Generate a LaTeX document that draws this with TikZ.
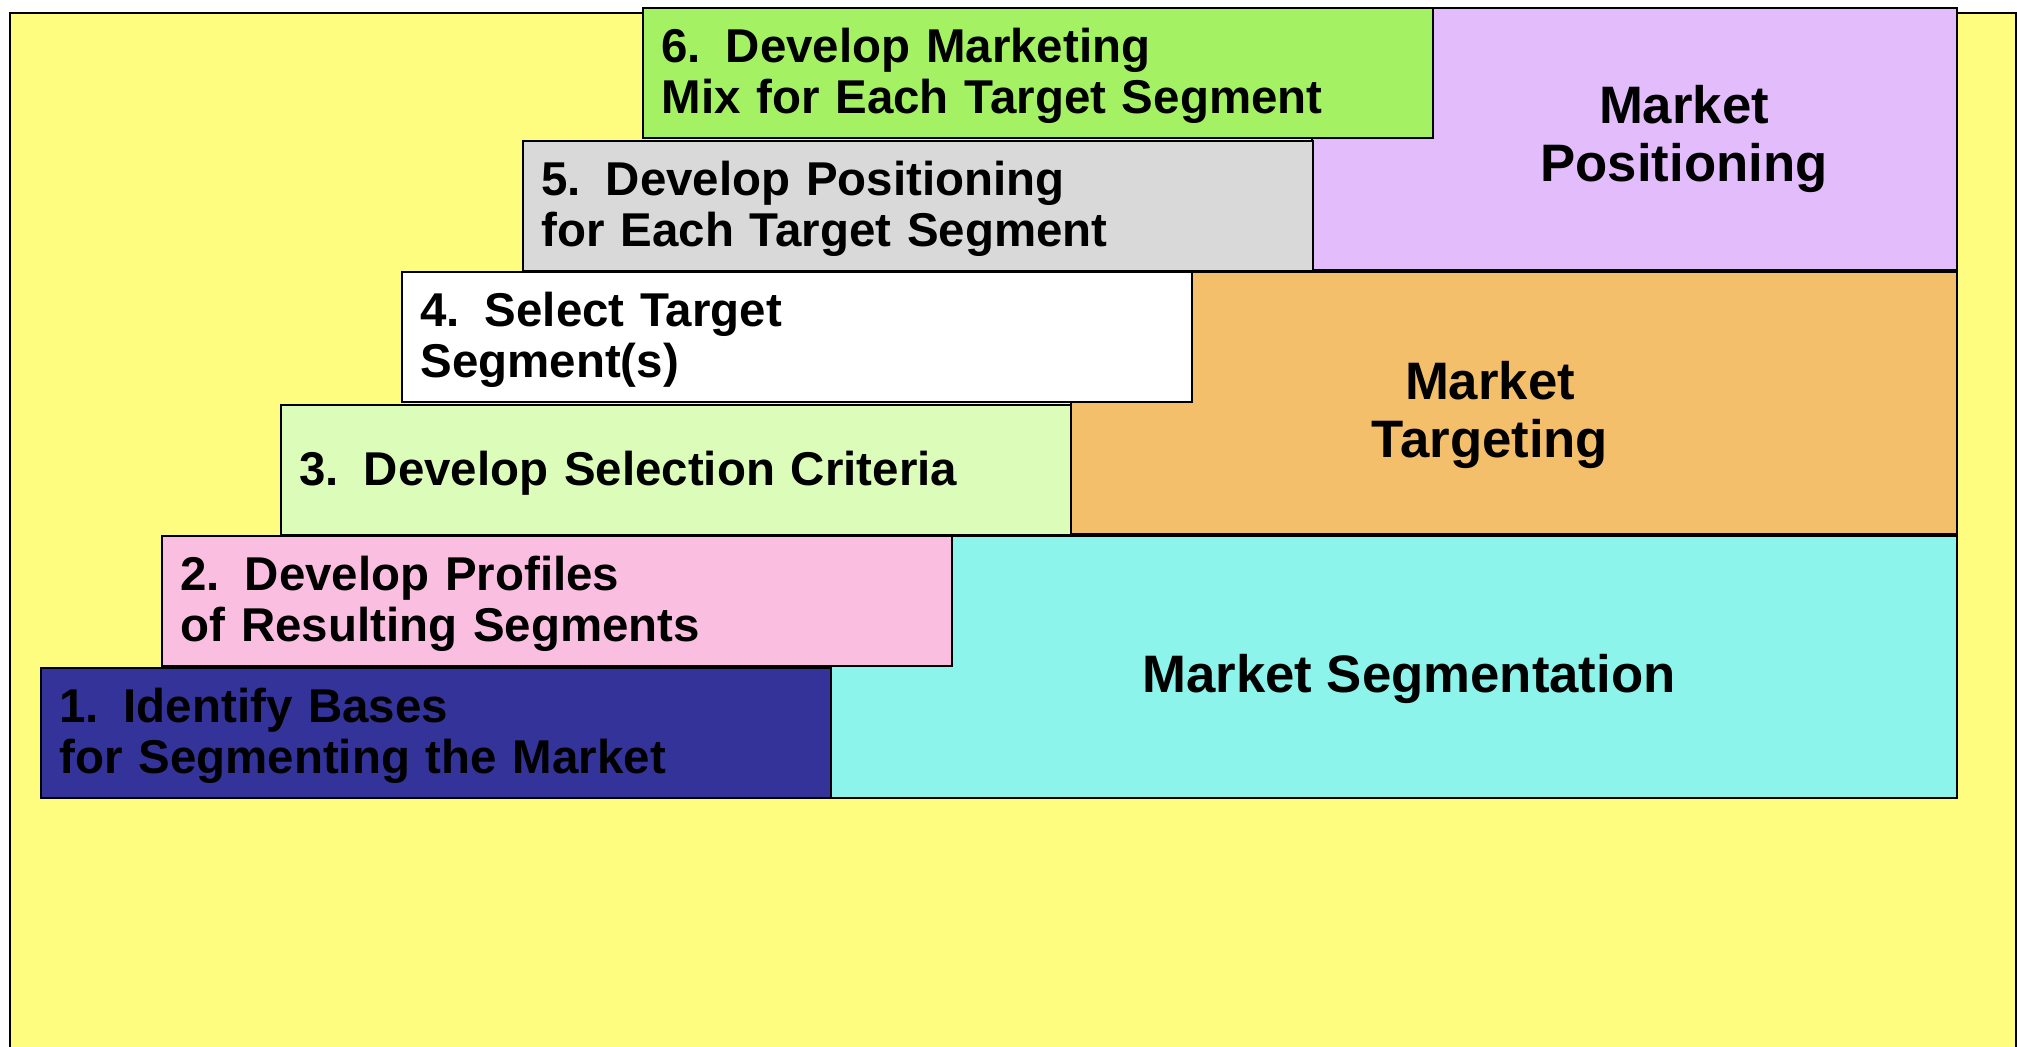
\documentclass[tikz,border=0pt]{standalone}
\usepackage{fontspec}
\setmainfont{Liberation Sans}
\usepackage{xcolor}
\usepackage{tikz}
\definecolor{bgyellow}{HTML}{FEFD7F}
\definecolor{stepblue}{HTML}{333399}
\definecolor{steppink}{HTML}{FABFE0}
\definecolor{steplime}{HTML}{DBFDB9}
\definecolor{stepgray}{HTML}{D9D9D9}
\definecolor{stepgreen}{HTML}{A4F264}
\definecolor{segcyan}{HTML}{8DF4EC}
\definecolor{targorange}{HTML}{F4BF6B}
\definecolor{pospurple}{HTML}{E2BCFB}
\newcommand{\stepgap}{\hspace{0.52em}}

\begin{document}
\begin{tikzpicture}[x=0.1mm, y=-0.1mm,%
% common options for the step boxes:
stepbox/.style = {draw, line width=0.6pt, anchor=north west, align=left,
            text width=7.53cm, inner xsep=0.185cm, minimum height=1.3cm,
            font=\fontsize{13.5}{14.6}\selectfont\bfseries,
            execute at begin node={\rule{0pt}{11.3pt}}},
% common options for the market areas:
areabox/.style = {draw, line width=0.6pt, anchor=north west,
            minimum height=2.62cm, inner sep=0},
arealabel/.style = {align=center, font=\fontsize{15}{16.7}\selectfont\bfseries}]
\useasboundingbox (0,0) rectangle (2017,1046);
\draw[fill=bgyellow, line width=0.6pt] (10,13) rectangle (2016,1100);
% market areas behind the steps
\node[areabox, fill=segcyan,    minimum width=11.27cm] (Seg)  at (829,535) {};
\node[areabox, fill=targorange, minimum width=8.86cm]  (Targ) at (1070,271) {};
\node[areabox, fill=pospurple,  minimum width=6.45cm]  (Pos)  at (1311,7) {};
\node[arealabel] (SegL)  at (1409,679) {Market Segmentation};
\node[arealabel] (TargL) at (1490,415) {Market\\Targeting};
\node[arealabel] (PosL)  at (1684,139) {Market\\Positioning};
% the six steps
\node[stepbox, fill=stepblue]  (S1) at (40,667)  {1.\stepgap Identify Bases\\for Segmenting the Market};
\node[stepbox, fill=steppink]  (S2) at (161,535) {2.\stepgap Develop Profiles\\of Resulting Segments};
\node[stepbox, fill=steplime]  (S3) at (280,404) {3.\stepgap Develop Selection Criteria};
\node[stepbox, fill=white]     (S4) at (401,271) {4.\stepgap Select Target\\Segment(s)};
\node[stepbox, fill=stepgray]  (S5) at (522,140) {5.\stepgap Develop Positioning\\for Each Target Segment};
\node[stepbox, fill=stepgreen] (S6) at (642,7)   {6.\stepgap Develop Marketing\\Mix for Each Target Segment};
\end{tikzpicture}
\end{document}
